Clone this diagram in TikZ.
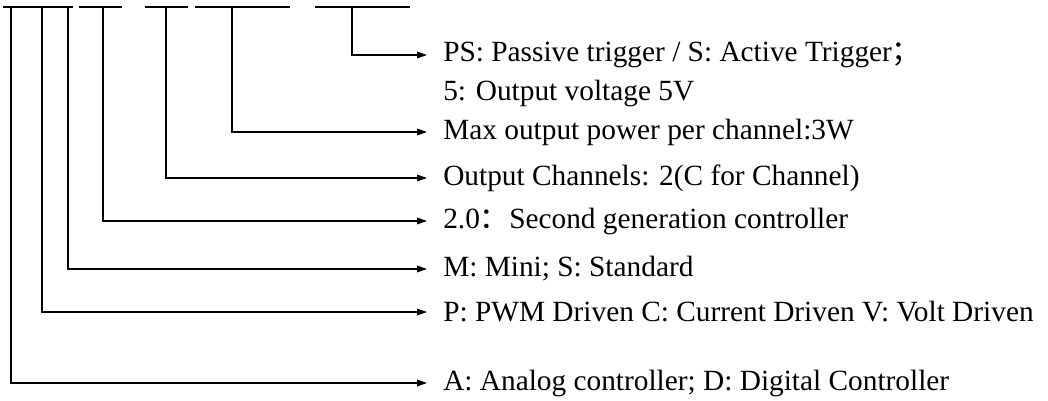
\documentclass[tikz,border=0pt]{standalone}
\usepackage{fontspec}
\setmainfont{Liberation Serif}
\newfontfamily\cjk{Noto Sans CJK SC}
\usetikzlibrary{arrows.meta}

\begin{document}
\begin{tikzpicture}[x=0.75pt,y=-0.75pt]
    \useasboundingbox (0,0) rectangle (1048,400);

        % code underlines, use the tuple for location
        \begin{scope}[line width=0.9pt]
        \draw (3,7) -- (73,7);
        \draw (79,7) -- (122,7);
        \draw (145,7) -- (188,7);
        \draw (195,7) -- (290,7);
        \draw (315,7) -- (410,7);
        \end{scope}

        % taps under the code
        \coordinate (tA) at (11,7);
        \coordinate (tP) at (42,7);
        \coordinate (tM) at (68,7);
        \coordinate (tG) at (103,7);
        \coordinate (tC) at (166,7);
        \coordinate (tW) at (232,7);
        \coordinate (tS) at (352,7);

        % add or remove labels here
        \begin{scope}[every node/.style={anchor=west,inner xsep=12pt,font=\fontsize{22}{26}\selectfont}]
        \node (S) at (427,55) {PS: Passive trigger / S: Active Trigger{\cjk ；}};
        \node (V) at (427,93) {5: Output voltage 5V};
        \node (W) at (427,132) {Max output power per channel:3W};
        \node (C) at (427,178) {Output Channels: 2(C for Channel)};
        \node (G) at (427,221) {2.0{\cjk ：}Second generation controller};
        \node (M) at (427,269) {M: Mini; S: Standard};
        \node (P) at (427,312) {P: PWM Driven C: Current Driven V: Volt Driven};
        \node (A) at (427,383) {A: Analog controller; D: Digital Controller};
        \end{scope}

        % arrows from the code to the labels
        \begin{scope}[>={Triangle[length=7.5pt,width=5pt]}, line width=0.9pt]
        \draw [->] (tS) |- (S.west);
        \draw [->] (tW) |- (W.west);
        \draw [->] (tC) |- (C.west);
        \draw [->] (tG) |- (G.west);
        \draw [->] (tM) |- (M.west);
        \draw [->] (tP) |- (P.west);
        \draw [->] (tA) |- (A.west);
        \end{scope}

\end{tikzpicture}
\end{document}
